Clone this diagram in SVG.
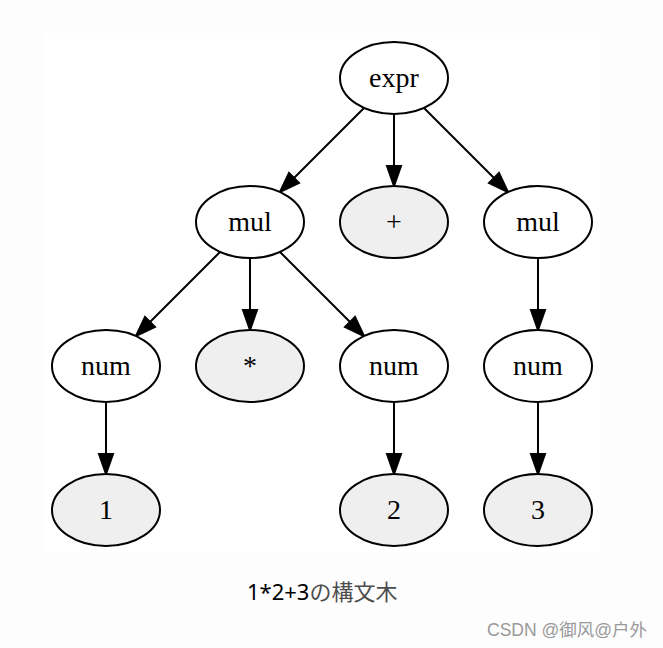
<svg xmlns="http://www.w3.org/2000/svg" width="663" height="648" viewBox="0 0 663 648">
<defs>
<style>
.n ellipse{fill:#fff;stroke:#000;stroke-width:2}
.t ellipse{fill:#efefef;stroke:#000;stroke-width:2}
.n text,.t text{font-family:"Liberation Serif","Times New Roman",serif;font-size:28px;fill:#000;text-anchor:middle}
.e line{stroke:#000;stroke-width:2}
.e polygon{fill:#000;stroke:#000;stroke-width:2}
</style>
</defs>
<rect width="663" height="648" fill="#fdfdfd"/>
<rect x="44" y="33" width="556" height="520" fill="#fff"/>
<g id="connectors" class="e">
<line x1="364" y1="108" x2="294" y2="178"/><polygon points="280,192 289,173 299,183"/>
<line x1="394" y1="114" x2="394" y2="166"/><polygon points="394,186 387,166 401,166"/>
<line x1="424" y1="108" x2="494" y2="178"/><polygon points="508,192 489,183 499,173"/>
<line x1="220" y1="252" x2="150" y2="322"/><polygon points="136,336 145,317 155,327"/>
<line x1="250" y1="258" x2="250" y2="310"/><polygon points="250,330 243,310 257,310"/>
<line x1="280" y1="252" x2="350" y2="322"/><polygon points="364,336 345,327 355,317"/>
<line x1="538" y1="258" x2="538" y2="310"/><polygon points="538,330 531,310 545,310"/>
<line x1="106" y1="402" x2="106" y2="454"/><polygon points="106,474 99,454 113,454"/>
<line x1="394" y1="402" x2="394" y2="454"/><polygon points="394,474 387,454 401,454"/>
<line x1="538" y1="402" x2="538" y2="454"/><polygon points="538,474 531,454 545,454"/>
</g>
<g id="expr" class="n"><ellipse cx="394" cy="78" rx="54" ry="36"/><text x="394" y="87">expr</text></g>
<g id="mul1" class="n"><ellipse cx="250" cy="222" rx="54" ry="36"/><text x="250" y="231">mul</text></g>
<g id="plus" class="t"><ellipse cx="394" cy="222" rx="54" ry="36"/><text x="394" y="231">+</text></g>
<g id="mul2" class="n"><ellipse cx="538" cy="222" rx="54" ry="36"/><text x="538" y="231">mul</text></g>
<g id="num1" class="n"><ellipse cx="106" cy="366" rx="54" ry="36"/><text x="106" y="375">num</text></g>
<g id="star" class="t"><ellipse cx="250" cy="366" rx="54" ry="36"/><text x="250" y="375">*</text></g>
<g id="num2" class="n"><ellipse cx="394" cy="366" rx="54" ry="36"/><text x="394" y="375">num</text></g>
<g id="num3" class="n"><ellipse cx="538" cy="366" rx="54" ry="36"/><text x="538" y="375">num</text></g>
<g id="one" class="t"><ellipse cx="106" cy="510" rx="54" ry="36"/><text x="106" y="519">1</text></g>
<g id="two" class="t"><ellipse cx="394" cy="510" rx="54" ry="36"/><text x="394" y="519">2</text></g>
<g id="three" class="t"><ellipse cx="538" cy="510" rx="54" ry="36"/><text x="538" y="519">3</text></g>
<text x="247" y="600" font-family="'Noto Sans','Noto Sans CJK JP',sans-serif" font-size="22" fill="#000">1*2+3<tspan fill="#4d4d4d">の構文木</tspan></text>
<text x="487" y="636" font-family="'Liberation Sans','Noto Sans CJK SC',sans-serif" font-size="17.5" fill="#999">CSDN @御风@户外</text>
</svg>
